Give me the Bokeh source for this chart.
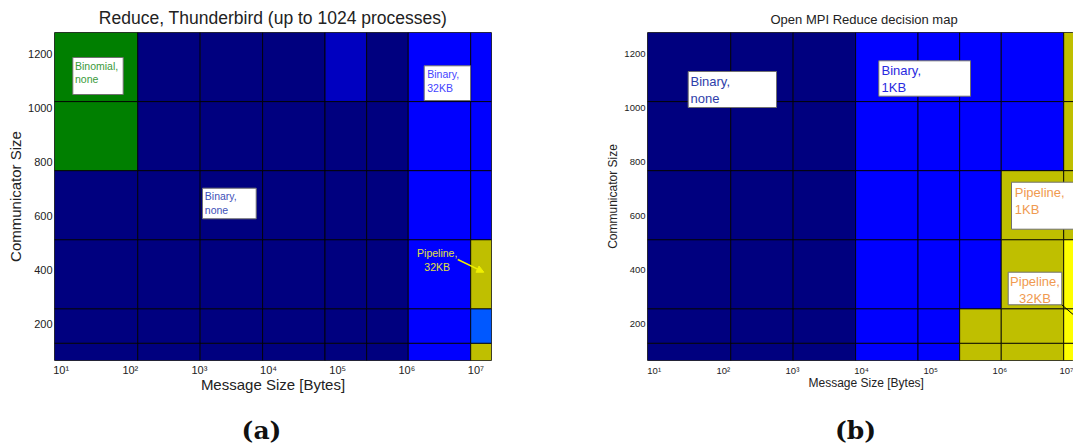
import math
from bokeh.plotting import figure
from bokeh.layouts import row, column
from bokeh.models import (ColumnDataSource, FixedTicker, Label, BoxAnnotation,
                          Arrow, NormalHead, Range1d, Title)
from bokeh.core.properties import value
from bokeh.embed import file_html
from bokeh.resources import INLINE

# ---------------- data ----------------
msg_edges = [8, 128, 1024, 8192, 65536, 262144, 1048576, 8388608, 16777216]
comm_edges = [64, 128, 256, 512, 768, 1024, 1280]
x_ticks = [10, 100, 1000, 10000, 100000, 1000000, 10000000]
x_tick_labels = ["10¹", "10²", "10³", "10⁴", "10⁵", "10⁶", "10⁷"]
y_ticks = [200, 400, 600, 800, 1000, 1200]

# rows from bottom (64-128) to top (1024-1280), columns = message size bins
thunderbird_best = [
    ["BN", "BN", "BN", "BN", "BN", "BN", "B32", "P32"],
    ["BN", "BN", "BN", "BN", "BN", "BN", "B32", "X1"],
    ["BN", "BN", "BN", "BN", "BN", "BN", "B32", "P32"],
    ["BN", "BN", "BN", "BN", "BN", "BN", "B32", "B32"],
    ["BIN", "BN", "BN", "BN", "BN", "BN", "B32", "B32"],
    ["BIN", "BN", "BN", "BN", "X2", "BN", "B32", "B32"],
]
openmpi_decision = [
    ["BN", "BN", "BN", "B1", "B1", "P1", "P1", "P32"],
    ["BN", "BN", "BN", "B1", "B1", "P1", "P1", "P32"],
    ["BN", "BN", "BN", "B1", "B1", "B1", "P1", "P32"],
    ["BN", "BN", "BN", "B1", "B1", "B1", "P1", "P1"],
    ["BN", "BN", "BN", "B1", "B1", "B1", "B1", "P1"],
    ["BN", "BN", "BN", "B1", "B1", "B1", "B1", "P1"],
]
captions = ["(a)", "(b)"]

# ---------------- styles ----------------
colors_a = {"BN": "#00007F", "BIN": "#007F00", "B32": "#0000FF",
            "P32": "#BFBF00", "X1": "#0058FF", "X2": "#0000C0"}
colors_b = {"BN": "#00007F", "B1": "#0000FF", "P1": "#BFBF00", "P32": "#FFFF00"}

FONT = "Liberation Sans"
FW, FH = 437, 328
FIG_H = 400
L0, L1 = math.log10(msg_edges[0]), math.log10(msg_edges[-1])


def dx(px):
    return 10 ** (L0 + px / FW * (L1 - L0))


def dy(py):
    return comm_edges[-1] - py / FH * (comm_edges[-1] - comm_edges[0])


def cells(grid, colors):
    d = dict(left=[], right=[], bottom=[], top=[], fill=[])
    for r, rowv in enumerate(grid):
        for c, code in enumerate(rowv):
            d["left"].append(msg_edges[c])
            d["right"].append(msg_edges[c + 1])
            d["bottom"].append(comm_edges[r])
            d["top"].append(comm_edges[r + 1])
            d["fill"].append(colors[code])
    return ColumnDataSource(d)


def make_fig(width, border_left, border_right, x_end, tick_size, label_size):
    p = figure(width=width, height=FIG_H, x_axis_type="log",
               x_range=Range1d(msg_edges[0], x_end),
               y_range=Range1d(comm_edges[0], comm_edges[-1]),
               output_backend="svg", toolbar_location=None,
               min_border_left=border_left, min_border_right=border_right,
               min_border_top=32, min_border_bottom=FIG_H - 32 - FH)
    p.grid.visible = False
    p.outline_line_color = "#555555"
    p.outline_line_width = 1
    p.background_fill_color = "white"
    for ax in (p.xaxis[0], p.yaxis[0]):
        ax.major_tick_in = 0
        ax.major_tick_out = 0
        ax.minor_tick_in = 0
        ax.minor_tick_out = 0
        ax.axis_line_color = None
        ax.major_label_text_font = FONT
        ax.major_label_text_font_size = tick_size
        ax.major_label_text_color = "#222222"
        ax.axis_label_text_font = FONT
        ax.axis_label_text_font_size = label_size
        ax.axis_label_text_font_style = "normal"
        ax.axis_label_text_color = "#222222"
    p.xaxis.ticker = FixedTicker(ticks=x_ticks)
    p.xaxis.major_label_overrides = {t: l for t, l in zip(x_ticks, x_tick_labels)}
    p.xaxis.major_label_standoff = 3
    p.yaxis.ticker = FixedTicker(ticks=y_ticks)
    p.yaxis.major_label_standoff = 2
    p.yaxis.axis_label_standoff = 1
    p.yaxis.axis_label = "Communicator Size"
    p.title.text_font = FONT
    p.title.text_font_style = "normal"
    p.title.text_color = "#222222"
    return p


def box(p, x0, y0, x1, y1):
    p.add_layout(BoxAnnotation(left=dx(x0), right=dx(x1), top=dy(y0), bottom=dy(y1),
                               fill_color="white", fill_alpha=1.0,
                               line_color="#707070", line_width=1, line_alpha=1.0))


def text(p, px, py, t, color, size, align="left"):
    p.add_layout(Label(x=dx(px), y=dy(py), text=t, text_align=align,
                       text_baseline="top", text_font=FONT,
                       text_font_style="normal", text_font_size=size,
                       text_color=color, text_line_height=1.15))


# ---------------- panel (a) ----------------
p1 = make_fig(560, 54, 69, msg_edges[-1], "11px", "15px")
p1.quad(left="left", right="right", bottom="bottom", top="top", fill_color="fill",
        line_color="black", line_width=1, line_alpha=0.85,
        source=cells(thunderbird_best, colors_a))
p1.title.text = "Reduce, Thunderbird (up to 1024 processes)"
p1.title.align = "center"
p1.title.text_font_size = "17.5px"
p1.title.standoff = 10
p1.xaxis.axis_label = "Message Size [Bytes]"
p1.xaxis.axis_label_standoff = -3

box(p1, 18.3, 25, 68.7, 62)
text(p1, 20.5, 27, "Binomial,\nnone", "#3A9A3A", "10.5px")
box(p1, 369.7, 33.3, 416, 68)
text(p1, 372.7, 35.5, "Binary,\n32KB", "#4444FF", "10.5px")
box(p1, 148, 155.7, 201.7, 186.3)
text(p1, 150.3, 157.5, "Binary,\nnone", "#4050B8", "10.5px")
text(p1, 382.7, 214.5, "Pipeline,\n32KB", "#E0E040", "10.5px", align="center")
p1.add_layout(Arrow(x_start=dx(403.3), y_start=dy(227), x_end=dx(429.3), y_end=dy(239.7),
                    line_color="#F0F000", line_width=1.5,
                    end=NormalHead(size=7, fill_color="#F0F000", line_color="#F0F000")))

# ---------------- panel (b) ----------------
p2 = make_fig(513, 87, 0, dx(426), "9.5px", "12px")
p2.quad(left="left", right="right", bottom="bottom", top="top", fill_color="fill",
        line_color="black", line_width=1, line_alpha=0.85,
        source=cells(openmpi_decision, colors_b))
p2.title.text = "Open MPI Reduce decision map"
p2.title.align = "left"
p2.title.offset = 123
p2.title.text_font_size = "13px"
p2.title.standoff = 12
p2.xaxis.major_label_standoff = 4
p2.xaxis.axis_label_standoff = 0
p2.add_layout(Title(text="Message Size [Bytes]", align="left", offset=161,
                    text_font=FONT, text_font_size="12px", text_font_style="normal",
                    text_color="#222222", standoff=-10), "below")

box(p2, 40.7, 39, 129, 75)
text(p2, 43, 41.5, "Binary,\nnone", "#2E3EAA", "13px")
box(p2, 231.3, 28.3, 323, 63.7)
text(p2, 234, 30.5, "Binary,\n1KB", "#2A2AE0", "13px")
box(p2, 364, 149.7, 440, 196.7)
text(p2, 367.3, 152, "Pipeline,\n1KB", "#F09A50", "13px")
box(p2, 360.7, 239.7, 414.3, 272.3)
text(p2, 387.5, 241.5, "Pipeline,\n32KB", "#F09A50", "13px", align="center")
p2.add_layout(Arrow(x_start=dx(414.3), y_start=dy(272.3), x_end=dx(426), y_end=dy(282.3),
                    line_color="black", line_width=1, end=None))

# ---------------- captions strip ----------------
cap = figure(width=1073, height=44, x_range=Range1d(0, 1073), y_range=Range1d(0, 44),
             output_backend="svg", toolbar_location=None,
             min_border_left=0, min_border_right=0, min_border_top=0, min_border_bottom=0,
             x_axis_location=None, y_axis_location=None)
cap.grid.visible = False
cap.outline_line_color = None
cap.text(x=[261, 855], y=[14, 14], text=captions, text_align="center",
         text_baseline="middle", text_font=value("DejaVu Serif"),
         text_font_style="bold", text_font_size="25px", text_color="#111111")

layout = column(row(p1, p2), cap)
open("out.html", "w").write(file_html(layout, INLINE))
